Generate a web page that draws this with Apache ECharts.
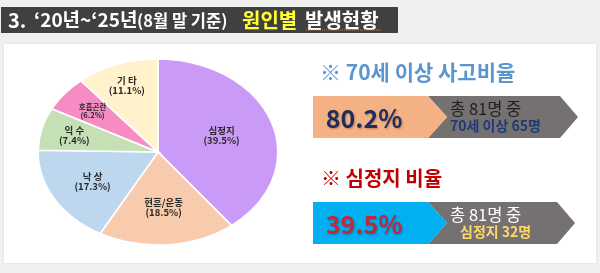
<!DOCTYPE html>
<html><head><meta charset="utf-8">
<script src="https://cdn.jsdelivr.net/npm/echarts@6/dist/echarts.min.js"></script>
<style>html,body{margin:0;padding:0;background:#f0f0f0}#c{width:600px;height:273px}</style>
</head><body><div id="c"></div>
<script>
const categories = ['심정지', '현훈/운동', '낙 상', '익 수', '호흡곤란', '기 타'];
const values = [39.5, 18.5, 17.3, 7.4, 6.2, 11.1];
const titleParts = ['3.', '‘20년~‘25년', '(8월 말 기준)', '원인별', '발생현황'];
const statTitles = ['※ 70세 이상 사고비율', '※ 심정지 비율'];
const statPercents = ['80.2%', '39.5%'];
const statTotals = ['총 81명 중', '총 81명 중'];
const statDetails = ['70세 이상 65명', '심정지 32명'];

const FONT = '"Noto Sans CJK KR", "Noto Sans", sans-serif';
const colors = ['#c99af6', '#f8cbad', '#bdd7ee', '#c5e0b4', '#f78cc4', '#fff2cc'];
const labelR = [0.56, 0.6, 0.63, 0.72, 0.7, 0.76];
const labelSize = [9.5, 9.5, 9.5, 9.5, 7.5, 9.5];
const CX = 158, CY = 152, RX = 120, RY = 93;
const total = values.reduce((a, b) => a + b, 0);

function renderItem(params, api) {
  const i = params.dataIndex;
  let before = 0;
  for (let k = 0; k < i; k++) before += values[k];
  const v = api.value(0);
  const a0 = -Math.PI / 2 + before / total * 2 * Math.PI;
  const a1 = a0 + v / total * 2 * Math.PI;
  const mid = (a0 + a1) / 2;
  const f = labelR[i];
  const lx = CX + RX * f * Math.cos(mid), ly = CY + RY * f * Math.sin(mid);
  return {
    type: 'group',
    children: [
      { type: 'group', x: CX, y: CY, scaleX: RX / RY, children: [
        { type: 'sector', shape: { cx: 0, cy: 0, r: RY, r0: 0, startAngle: a0, endAngle: a1, clockwise: true },
          style: { fill: colors[i], stroke: '#ffffff', lineWidth: 1.5, strokeNoScale: true } }
      ] },
      { type: 'text', x: lx, y: ly, z2: 10,
        style: { text: categories[i] + '\n(' + v + '%)', fill: '#2a2a2a', fontSize: labelSize[i], fontWeight: 'bold',
          fontFamily: FONT, align: 'center', verticalAlign: 'middle', lineHeight: labelSize[i] + 0.5 } }
    ]
  };
}

function txt(x, y, text, size, color, extra) {
  return Object.assign({ type: 'text', x: x, y: y, z: 5,
    style: Object.assign({ text: text, fontSize: size, fontWeight: 'bold', fontFamily: FONT, fill: color,
      align: 'left', verticalAlign: 'middle' }, extra || {}) });
}

function panel(y0, fillColor, tipX, idx, pctColor, totColor, detColor) {
  const h = 42, ym = y0 + h / 2;
  return [
    { type: 'polygon', z: 3, shape: { points: [[428, y0], [tipX - 18, y0], [tipX, ym], [tipX - 18, y0 + h], [428, y0 + h], [447, ym]] }, style: { fill: '#767171' } },
    { type: 'polygon', z: 3, shape: { points: [[313, y0], [428, y0], [447, ym], [428, y0 + h], [313, y0 + h]] }, style: { fill: fillColor } },
    txt(364, ym + 1, statPercents[idx], 25, pctColor, { align: 'center', textShadowColor: 'rgba(0,0,0,0.25)', textShadowBlur: 2, textShadowOffsetX: 1, textShadowOffsetY: 1 }),
    txt(450, ym - 8, statTotals[idx], 16.5, totColor, { fontWeight: 'normal' }),
    txt(idx === 0 ? 450 : 460, ym + 9, statDetails[idx], 14, detColor)
  ];
}

const chart = echarts.init(document.getElementById('c'));
chart.setOption({
  backgroundColor: '#f0f0f0',
  animation: false,
  graphic: [
    { type: 'rect', z: 0, shape: { x: 4, y: 44, width: 592, height: 219 }, style: { fill: '#ffffff', shadowColor: 'rgba(0,0,0,0.08)', shadowBlur: 3 } },
    { type: 'rect', z: 1, shape: { x: 1, y: 7, width: 397, height: 26 }, style: { fill: '#404040' } },
    txt(8, 20, titleParts[0], 20, '#ffffff'),
    txt(34, 20, titleParts[1], 19, '#ffffff'),
    txt(137, 21, titleParts[2], 16.5, '#ffffff'),
    txt(242, 20, titleParts[3], 20, '#ffff33'),
    txt(305, 20, titleParts[4], 20, '#ffffff'),
    { type: 'line', z: 5, shape: { x1: 306, y1: 30, x2: 382, y2: 30 }, style: { stroke: '#b08a5a', lineWidth: 1, lineDash: [1, 1] } },
    txt(320, 72, statTitles[0], 21, '#5b96d2'),
    txt(321, 178, statTitles[1], 20, '#c00000')
  ].concat(panel(96, '#f4b183', 578, 0, '#1f2d5a', '#1e1e1e', '#1f3a78'))
   .concat(panel(202, '#00b0f0', 575, 1, '#c0283c', '#ffffff', '#ffd966')),
  series: [{
    type: 'custom',
    coordinateSystem: 'none',
    renderItem: renderItem,
    data: values.map(v => [v])
  }]
});
</script>
</body></html>
